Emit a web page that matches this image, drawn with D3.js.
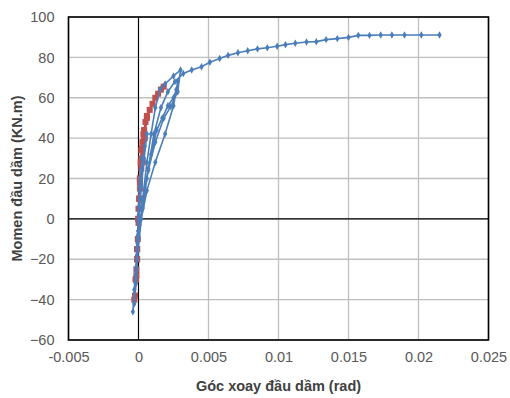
<!DOCTYPE html>
<html><head><meta charset="utf-8">
<script src="https://cdn.jsdelivr.net/npm/d3@7"></script>
<style>body{margin:0;background:#fff}svg{display:block}text{font-family:"Liberation Sans",Arial,sans-serif}</style>
</head><body>
<script>
const xTicks = [-0.005, 0, 0.005, 0.01, 0.015, 0.02, 0.025];
const xTickLabels = ["-0.005", "0", "0.005", "0.01", "0.015", "0.02", "0.025"];
const yTicks = [-60, -40, -20, 0, 20, 40, 60, 80, 100];
const xTitle = "Góc xoay đầu dầm (rad)";
const yTitle = "Momen đầu dầm (KN.m)";

// Red series (rotation, moment)
const redX = [0,0.00005,0.0001,0.00015,0.0002,0.0001,0,-0.00005,-0.0001,-0.00015,-0.0001,0,0.0001,0.0002,0.00028,0.00035,0.0002,0.00005,-0.0001,-0.0002,-0.00025,-0.0001,0,0.0001,0.00025,0.0004,0.0005,0.0006,0.00045,0.0003,0.0001,-0.0001,-0.0002,-0.0003,-0.00015,0,0.0002,0.0004,0.0006,0.0008,0.001,0.0012,0.0014,0.0016,0.0018];
const redY = [0,10,20,28,34,20,5,-10,-20,-28,-15,0,15,30,38,42,28,10,-15,-30,-38,-20,-2,18,35,44,48,51,40,28,10,-15,-30,-40,-25,0,25,40,50,54,57,60,62,64,65.5];

// Blue series (rotation, moment)
const blueX = [0,0.00003,0.00008,0.00012,0.00006,0,-0.00004,-0.00008,-0.00003,0.00002,0.0001,0.00018,0.00025,0.00015,0.00005,-0.00005,-0.0001,-0.00015,-0.00008,0.00002,0.00015,0.0003,0.00045,0.0006,0.0004,0.0002,0,-0.0001,-0.00016,-0.0002,-0.00012,0,0.0003,0.0006,0.0009,0.0013,0.0017,0.0021,0.0025,0.0027,0.0028,0.0025,0.0019,0.0012,0.0006,0.0002,-0.0001,-0.0002,-0.0003,-0.0002,0,0.0003,0.0006,0.0009,0.0012,0.00155,0.0019,0.0025,0.003,0.0028,0.0023,0.0018,0.0012,0.0007,0.0003,-0.0001,-0.0003,-0.0004,-0.0002,0,0.0003,0.0007,0.0011,0.0016,0.0021,0.0026,0.0032,0.0038,0.0045,0.0051,0.0058,0.0064,0.0071,0.0078,0.0085,0.0092,0.0099,0.0105,0.0112,0.012,0.0127,0.0134,0.0142,0.015,0.0157,0.0165,0.0173,0.0181,0.019,0.0202,0.0215];
const blueY = [0,6,14,20,10,0,-8,-16,-6,4,16,24,30,18,6,-10,-20,-26,-12,2,18,28,36,42,30,16,0,-14,-24,-32,-18,-2,5,20,32,44,50,56,60,64,68,56,42,28,14,0,-20,-32,-42,-30,-10,10,28,42,55,64.2,66.8,70.8,73.7,63,55.6,49.8,38,24,8,-15,-35,-46,-28,-8,6,25,42,55,63,68,72,73.7,75.4,77.6,79.4,81,82.3,83.3,84.2,84.8,85.5,86.3,87,87.6,87.8,88.8,89.3,89.9,90.9,90.9,91.1,91.1,91.1,91.1,91.1];

const W = 510, H = 398;
const m = {left: 68.5, right: 21.5, top: 17, bottom: 58};
const svg = d3.select("body").append("svg").attr("width", W).attr("height", H);
const x = d3.scaleLinear().domain([-0.005, 0.025]).range([m.left, W - m.right]);
const y = d3.scaleLinear().domain([-60, 100]).range([H - m.bottom, m.top]);

// gridlines
svg.append("g").selectAll("line.h").data(yTicks).join("line")
  .attr("x1", m.left).attr("x2", W - m.right)
  .attr("y1", d => y(d)).attr("y2", d => y(d))
  .attr("stroke", "#bfbfbf").attr("stroke-width", 1.3);
svg.append("g").selectAll("line.v").data(xTicks).join("line")
  .attr("y1", m.top).attr("y2", H - m.bottom)
  .attr("x1", d => x(d)).attr("x2", d => x(d))
  .attr("stroke", "#bfbfbf").attr("stroke-width", 1.3);

// zero axis lines
svg.append("line").attr("x1", x(0)).attr("x2", x(0)).attr("y1", m.top).attr("y2", H - m.bottom)
  .attr("stroke", "#000").attr("stroke-width", 1.1);
svg.append("line").attr("x1", m.left).attr("x2", W - m.right).attr("y1", y(0)).attr("y2", y(0))
  .attr("stroke", "#000").attr("stroke-width", 1.1);

// axes labels via d3 axes
const xAxis = d3.axisBottom(x).tickValues(xTicks).tickFormat((d, i) => xTickLabels[i]).tickSize(0).tickPadding(12);
const gx = svg.append("g").attr("transform", `translate(0,${H - m.bottom})`).call(xAxis);
gx.select(".domain").remove();
gx.selectAll("text").attr("font-size", "14.5px").attr("fill", "#595959").attr("font-family", "Liberation Sans, Arial, sans-serif");

const yAxis = d3.axisLeft(y).tickValues(yTicks).tickFormat(d3.format("d")).tickSize(0).tickPadding(14);
const gy = svg.append("g").attr("transform", `translate(${m.left},0)`).call(yAxis);
gy.select(".domain").remove();
gy.selectAll("text").attr("font-size", "14.5px").attr("fill", "#595959").attr("font-family", "Liberation Sans, Arial, sans-serif");

// series
const line = d3.line().x(d => x(d[0])).y(d => y(d[1]));
const red = redX.map((v, i) => [v, redY[i]]);
const blue = blueX.map((v, i) => [v, blueY[i]]);

const redC = "#c0504d", blueC = "#4a7ebb";
svg.append("path").datum(red).attr("d", line).attr("fill", "none").attr("stroke", redC).attr("stroke-width", 1.8);
svg.append("g").selectAll("rect").data(red).join("rect")
  .attr("x", d => x(d[0]) - 3).attr("y", d => y(d[1]) - 3).attr("width", 6).attr("height", 6).attr("fill", redC);

svg.append("path").datum(blue).attr("d", line).attr("fill", "none").attr("stroke", blueC).attr("stroke-width", 1.6);
svg.append("g").selectAll("path.m").data(blue).join("path")
  .attr("d", d3.symbol().type(d3.symbolDiamond).size(16))
  .attr("transform", d => `translate(${x(d[0])},${y(d[1])})`).attr("fill", blueC);

// plot border
svg.append("rect").attr("x", m.left).attr("y", m.top).attr("width", W - m.right - m.left).attr("height", H - m.bottom - m.top)
  .attr("fill", "none").attr("stroke", "#000").attr("stroke-width", 1.6);

// titles
svg.append("text").attr("x", (m.left + W - m.right) / 2).attr("y", 391).attr("text-anchor", "middle")
  .attr("font-size", "14.5px").attr("font-weight", "bold").attr("fill", "#404040").text(xTitle);
svg.append("text").attr("transform", `translate(22,${(m.top + H - m.bottom) / 2}) rotate(-90)`).attr("text-anchor", "middle")
  .attr("font-size", "14.5px").attr("font-weight", "bold").attr("fill", "#404040").text(yTitle);
</script>
</body></html>
